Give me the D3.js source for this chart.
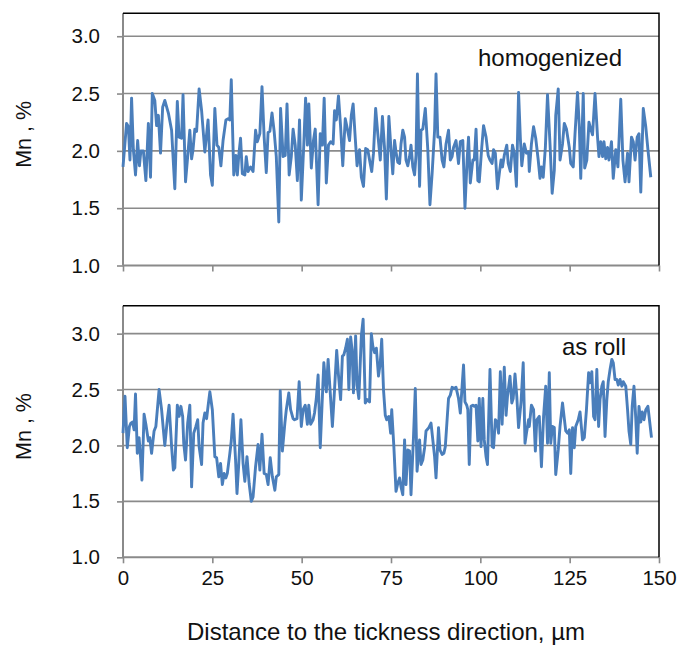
<!DOCTYPE html>
<html>
<head>
<meta charset="utf-8">
<script src="https://cdn.jsdelivr.net/npm/d3@7/dist/d3.min.js"></script>
<style>
  html, body { margin: 0; padding: 0; background: #fff; }
  svg { display: block; font-family: "Liberation Sans", Arial, sans-serif; }
</style>
</head>
<body>
<svg id="chart" width="681" height="650"></svg>
<script>
// Mn profile across the thickness: [distance µm, Mn %]
const homogenized = [
  [0,1.86],[1.0,2.24],[1.5,2.21],[1.95,1.92],[2.4,2.46],[2.9,2.01],[3.5,1.79],[4.1,2.09],[4.6,1.87],[5.0,2.0],
  [5.7,2.0],[6.4,1.74],[7.1,2.24],[7.7,1.77],[8.2,2.5],[8.9,2.44],[9.4,2.22],[9.9,2.31],[10.5,1.98],[11.1,2.38],
  [11.7,2.44],[12.7,2.33],[13.6,2.18],[14.5,1.67],[15.2,2.43],[15.7,2.12],[16.4,2.11],[16.8,2.49],[17.5,1.73],[18.1,1.95],
  [18.7,2.18],[19.2,1.93],[19.6,2.01],[20.1,2.19],[20.6,2.17],[21.3,2.54],[22.0,2.35],[22.9,1.99],[23.8,2.27],[24.5,1.79],
  [25.0,1.70],[25.7,2.37],[26.3,2.05],[26.8,2.03],[27.4,1.87],[28.0,2.09],[28.8,2.27],[29.4,2.28],[29.9,2.27],[30.3,2.62],
  [31.0,1.79],[31.6,1.96],[32.0,1.79],[32.4,1.96],[32.9,2.11],[33.4,1.80],[34.1,1.79],[34.5,1.95],[35.0,1.82],[35.7,1.86],
  [36.4,1.82],[37.1,2.18],[37.6,2.08],[38.3,2.15],
  [38.9,2.56],[39.5,2.12],[40.1,1.81],[40.6,2.16],[41.1,2.17],[41.7,2.33],[42.3,2.17],[42.9,1.95],[43.6,1.38],[44.1,2.37],
  [44.8,1.95],[45.4,1.96],[45.9,2.41],[46.5,1.79],[47.1,1.95],[47.6,2.19],[48.2,2.05],[48.8,1.74],[49.4,2.27],[49.9,1.57],
  [50.6,2.06],[51.1,2.46],[51.6,2.05],[52.0,2.41],[52.7,1.85],[53.3,2.09],[53.8,2.19],[54.6,1.53],[55.2,2.15],[55.8,2.05],
  [56.3,2.46],[56.9,1.72],[57.5,2.05],[58.1,2.08],[58.8,2.06],[59.2,2.35],[59.7,2.27],[60.3,2.48],[60.9,2.21],[61.5,1.87],
  [62.2,2.28],[62.8,2.19],[63.4,2.09],[63.9,2.31],[64.4,2.41],[65.0,2.11],[65.5,1.87],[66.2,2.01],[66.7,1.77],[67.3,1.69],
  [67.9,2.02],[68.5,2.01],[69.0,1.92],[69.6,1.82],[70.1,1.98],[70.7,2.37],[71.3,2.15],[72.0,1.92],[72.6,2.30],[73.2,2.02],
  [73.7,1.58],[74.4,2.30],[75.0,2.01],[75.5,1.80],
  [76.0,2.09],[76.4,1.99],[76.9,1.90],[77.4,1.89],[77.8,2.06],[78.3,2.18],[78.8,2.12],[79.2,1.92],[79.7,1.87],[80.2,1.95],
  [80.6,2.05],[81.1,1.86],[81.6,1.79],[82.0,1.96],[82.4,2.67],[83.0,1.69],[83.4,2.18],[83.9,2.19],[84.6,2.37],[85.3,2.01],
  [85.9,1.53],[86.5,1.80],[87.2,2.18],[87.6,2.67],[88.1,2.12],[88.7,2.12],[89.3,1.92],[89.8,1.86],[90.4,2.06],[91.1,2.18],
  [91.6,1.92],[92.1,1.95],[92.5,2.03],[93.2,2.09],[93.9,1.89],[94.4,2.08],[95.1,2.09],[95.7,1.50],[96.3,1.92],[96.7,2.12],
  [97.2,1.72],[97.9,1.92],[98.3,1.92],[98.8,2.19],[99.3,1.74],[99.7,1.73],[100.4,2.03],[100.9,2.22],[101.6,2.12],[102.2,1.96],
  [102.7,1.92],[103.3,1.89],[103.7,2.01],[104.2,1.98],[104.8,1.67],[105.3,1.80],[105.8,1.92],[106.2,1.86],[106.7,1.96],[107.4,2.05],
  [107.8,1.89],[108.4,1.82],[109.0,2.05],[109.5,1.98],[110.1,1.69],[110.7,2.51],[111.2,2.11],[111.6,1.87],[112.3,2.06],[112.9,1.98],
  [113.5,1.99],
  [113.7,1.82],[114.3,2.06],[114.9,2.21],[115.5,2.11],[116.2,1.92],[116.7,1.76],[117.1,1.86],[117.6,1.77],[118.2,2.03],[118.8,2.49],
  [119.5,2.06],[120.1,1.63],[120.7,1.83],[121.1,2.31],[121.8,2.54],[122.3,1.92],[123.0,2.06],[123.5,2.24],[124.1,2.19],[124.9,2.03],
  [125.3,1.89],[126.0,1.86],[126.5,2.15],[127.2,2.51],[127.7,2.21],[128.1,1.76],[128.8,2.50],[129.2,1.85],[129.8,1.92],[130.4,2.25],
  [130.9,2.19],[131.4,2.14],[132.1,2.50],[132.8,2.12],[133.2,1.95],[133.7,2.08],[134.2,1.95],[134.6,2.08],[135.1,1.93],[135.6,2.03],
  [136.0,1.92],[136.7,2.08],[137.2,1.76],[137.9,2.01],[138.5,1.86],[139.3,2.45],[139.9,1.92],[140.5,1.73],[141.2,1.98],[141.6,1.73],
  [142.3,2.12],[142.8,2.08],[143.3,1.92],[143.9,2.12],[144.4,2.15],[144.9,1.64],[145.6,2.37],[146.3,2.21],[146.9,2.01],[147.7,1.77]
];

const asRolled = [
  [0,2.11],[0.56,2.44],[1.2,1.98],[1.8,2.17],[2.2,2.20],[2.7,2.21],[3.1,2.14],[3.5,2.46],[4.0,1.93],[4.5,2.07],
  [4.9,1.90],[5.3,1.69],[5.9,2.28],[6.4,2.19],[7.1,2.04],[7.5,2.07],[8.0,1.93],[8.7,2.13],[9.2,2.17],[10.1,2.50],
  [10.8,2.32],[11.3,2.14],[11.7,2.0],[12.4,2.23],[12.9,2.36],[13.6,1.99],[14.1,1.78],[14.5,1.80],[15.2,2.36],[15.7,2.26],
  [16.2,2.35],[16.7,2.26],[17.0,2.02],[17.5,1.87],[18.1,2.20],[18.7,2.36],[19.2,1.63],[19.8,2.11],[20.4,2.17],[20.9,2.23],
  [21.3,1.99],[22.0,1.83],[22.4,2.20],[22.9,2.29],[23.4,2.24],[23.8,2.35],[24.3,2.48],[25.0,2.32],[25.7,1.90],[26.2,1.89],
  [26.8,1.72],[27.3,1.84],[27.8,1.65],[28.3,1.75],[28.8,1.71],[29.2,1.75],[29.9,1.93],[30.3,2.04],[30.8,2.28],[31.5,1.87],
  [31.9,1.57],[32.4,1.84],[33.0,2.23],[33.6,1.84],[34.1,1.68],[34.7,1.90],[35.3,1.66],[35.9,1.50],[36.4,1.54],[37.1,1.81],
  [37.8,2.01],[38.3,1.78],
  [38.9,2.10],[39.5,1.75],[40.1,1.74],[40.6,1.65],[41.2,1.89],[41.8,1.72],[42.5,1.60],[42.9,1.72],[43.6,1.74],[44.0,2.49],
  [44.6,1.95],[45.3,2.20],[45.7,2.32],[46.4,2.47],[46.9,2.32],[47.6,2.24],[48.0,2.23],[48.7,2.24],[49.3,2.57],[49.9,2.17],
  [50.4,2.32],[51.0,2.36],[51.6,2.19],[52.0,2.36],[52.5,2.19],[53.2,2.23],[53.6,2.29],[54.1,2.42],[54.6,2.63],[55.2,1.98],
  [55.7,2.36],[56.2,2.74],[56.9,2.48],[57.4,2.77],[58.0,2.47],[58.6,2.17],[59.2,2.50],[59.8,2.85],[60.3,2.63],[60.9,2.41],
  [61.4,2.80],[61.8,2.81],[62.3,2.87],[62.8,2.95],[63.2,2.50],[63.7,2.97],[64.1,2.86],[64.5,2.47],[65.1,2.98],[65.5,2.54],
  [66.0,2.42],[66.7,2.98],[67.2,3.13],[67.8,2.38],[68.3,2.41],[69.0,2.39],[69.5,3.0],[69.9,2.89],[70.4,2.83],[70.9,2.87],
  [71.5,2.62],[72.0,2.74],[72.4,2.95],[72.9,2.50],[73.4,2.27],[73.8,2.23],[74.4,2.26],[74.9,2.11],[75.2,2.32],[75.8,1.99],
  [76.4,1.59],[76.9,1.66],[77.4,1.71],[77.8,1.63],[78.3,1.56],[78.8,2.05],[79.2,1.65],[79.7,1.96],[80.2,1.95],[80.6,1.56],
  [81.3,2.08],[81.8,2.51],[82.3,1.77],[83.0,2.05],[83.4,1.83],[83.9,1.87],[84.4,1.98],[84.8,2.13],[85.6,2.16],[86.2,2.20],
  [86.7,2.05],[87.2,1.90],[87.6,1.71],[88.3,2.16],[88.7,1.96],[89.3,1.92],[89.8,1.93],[90.2,1.99],[90.7,2.23],[91.1,2.42],
  [91.6,2.45],[92.1,2.52],[92.7,2.51],[93.2,2.52],[93.9,2.42],[94.4,2.29],[94.9,2.53],[95.3,2.72],[95.7,2.39],[96.2,2.36],
  [96.5,2.32],[96.9,1.83],[97.4,2.35],[97.9,2.36],[98.3,2.35],[98.8,2.36],[99.3,2.04],[99.7,2.42],[100.2,1.99],[100.7,2.42],
  [101.1,2.05],[101.6,1.90],[102.0,1.83],[102.7,2.68],[103.3,1.99],[103.7,1.98],[104.2,2.23],[104.7,2.21],[105.1,2.11],[105.6,2.66],
  [106.1,2.19],[106.7,2.70],[107.2,2.27],[107.6,2.44],[108.3,2.62],[108.8,2.38],[109.2,2.42],[109.7,2.64],[110.2,2.44],[110.7,2.16],
  [111.4,2.39],[112.0,2.74],[112.5,2.02],[112.9,2.11],[113.5,2.23],
  [113.7,2.17],[114.3,2.36],[114.9,2.32],[115.4,1.95],[115.8,2.23],[116.5,2.26],[117.1,1.81],[117.7,2.26],[118.3,2.53],[118.8,2.02],
  [119.3,2.65],[119.7,2.02],[120.2,2.17],[120.7,2.16],[121.1,1.74],[121.8,1.96],[122.3,2.17],[123.0,2.38],[123.5,2.24],[123.9,2.13],
  [124.4,2.11],[124.9,2.14],[125.3,1.75],[125.8,2.16],[126.3,1.98],[126.7,2.17],[127.4,2.23],[127.9,2.30],[128.6,2.05],[129.1,2.07],
  [129.7,2.32],[130.3,2.65],[130.7,2.56],[131.2,2.66],[131.7,2.26],[132.1,2.23],[132.6,2.68],[133.1,2.17],[133.5,2.41],[134.0,2.53],
  [134.4,2.57],[134.9,2.08],[135.4,2.41],[135.8,2.57],[136.3,2.68],[136.8,2.77],[137.2,2.74],[137.7,2.59],[138.2,2.59],[138.6,2.54],
  [139.1,2.59],[139.6,2.53],[140.0,2.57],[140.7,2.53],[141.2,2.32],[141.6,2.13],[142.1,2.01],[142.5,2.35],[143.0,2.53],[143.5,2.24],
  [143.9,1.93],[144.4,2.35],[144.9,2.21],[145.3,2.30],[145.8,2.23],[146.3,2.32],[146.9,2.35],[147.4,2.21],[147.9,2.07]
];

const xTicks = [0, 25, 50, 75, 100, 125, 150];
const yTicks = [1.0, 1.5, 2.0, 2.5, 3.0];
const panelLabels = ["homogenized", "as roll"];
const yTitle = "Mn , %";
const xTitle = "Distance to the tickness direction, µm";

const svg = d3.select("#chart");
const TICK_FONT = 20.5;
const GRID = "#8a8a8a";
const LINE = "#4a7ebb";
const INK = "#111";

const x = d3.scaleLinear().domain([0, 150]).range([123, 659]);

function panel(data, yMax, top, bottom, label, labelPos, showXLabels) {
  const y = d3.scaleLinear().domain([1.0, yMax]).range([bottom, top]);
  const g = svg.append("g");

  // horizontal gridlines
  g.selectAll("line.grid").data(yTicks.filter(t => t > 1.0)).join("line")
    .attr("x1", x(0)).attr("x2", x(150))
    .attr("y1", d => y(d)).attr("y2", d => y(d))
    .attr("stroke", GRID).attr("stroke-width", 1.6);

  // y axis
  const yAxis = d3.axisLeft(y).tickValues(yTicks).tickFormat(d3.format(".1f"))
    .tickSize(6).tickPadding(17);
  const ya = g.append("g").attr("transform", `translate(${x(0)},0)`).call(yAxis);
  ya.select(".domain").attr("stroke", GRID).attr("stroke-width", 2)
    .attr("d", `M0,${top}V${bottom}`);
  ya.selectAll(".tick line").attr("stroke", GRID).attr("stroke-width", 1.6);
  ya.selectAll(".tick text").attr("font-size", TICK_FONT).attr("fill", INK)
    .attr("font-family", "Liberation Sans, Arial, sans-serif");

  // x axis
  const xAxis = d3.axisBottom(x).tickValues(xTicks).tickSize(6).tickPadding(7)
    .tickFormat(showXLabels ? d3.format("d") : () => "");
  const xa = g.append("g").attr("transform", `translate(0,${bottom})`).call(xAxis);
  xa.select(".domain").attr("stroke", GRID).attr("stroke-width", 2)
    .attr("d", `M${x(0)},0H${x(150)}`);
  xa.selectAll(".tick line").attr("stroke", GRID).attr("stroke-width", 1.6);
  xa.selectAll(".tick text").attr("font-size", TICK_FONT).attr("fill", INK)
    .attr("font-family", "Liberation Sans, Arial, sans-serif");

  // frame: top and right edges
  g.append("path")
    .attr("d", `M${x(0)},${top}H${x(150)}V${bottom}`)
    .attr("fill", "none").attr("stroke", "#000").attr("stroke-width", 1.5);

  // profile line
  const line = d3.line().x(d => x(d[0])).y(d => y(d[1]));
  g.append("path").datum(data)
    .attr("d", line)
    .attr("fill", "none").attr("stroke", LINE)
    .attr("stroke-width", 2.9).attr("stroke-linejoin", "round");

  // y title
  const cy = (top + bottom) / 2 - 5;
  g.append("text")
    .attr("transform", `translate(30.5,${cy}) rotate(-90)`)
    .attr("text-anchor", "middle")
    .attr("font-size", 21.5).attr("fill", INK)
    .text(yTitle);

  // panel label
  g.append("text")
    .attr("x", labelPos[0]).attr("y", labelPos[1])
    .attr("text-anchor", "middle")
    .attr("font-size", 24).attr("fill", INK)
    .text(label);
}

panel(homogenized, 3.2, 13.3, 265.5, panelLabels[0], [550, 66], false);
panel(asRolled, 3.25, 305.7, 557.3, panelLabels[1], [594, 355], true);

svg.append("text")
  .attr("x", 386).attr("y", 640)
  .attr("text-anchor", "middle")
  .attr("font-size", 24).attr("fill", INK)
  .text(xTitle);
</script>
</body>
</html>
